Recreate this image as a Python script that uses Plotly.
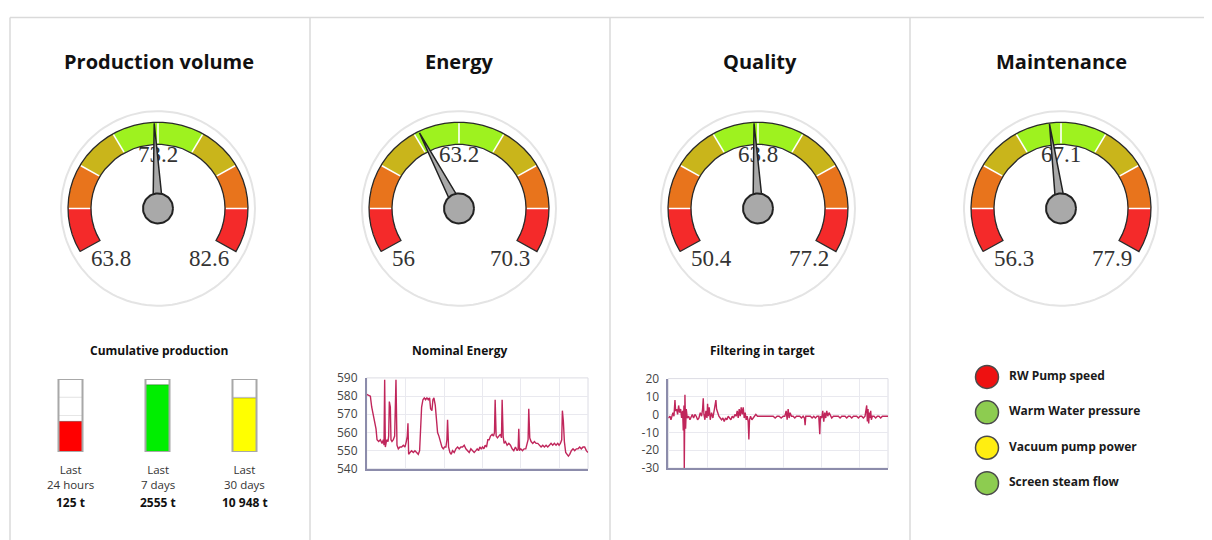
import numpy as np
import plotly.graph_objects as go

# figure size / placement: the photographed page shows the figure offset by (8, ~16) px and
# slightly compressed vertically, so reference pixel positions are converted accordingly.
W, H = 1204, 543
OX = 8
IMG_OY, SY = 16.1, 0.966

# ---------------- data ----------------
panel_titles = ["Production volume", "Energy", "Quality", "Maintenance"]
gauge_min = [63.8, 56, 50.4, 56.3]
gauge_max = [82.6, 70.3, 77.2, 77.9]
gauge_value = [73.2, 63.2, 63.8, 67.1]
needle_value = [73.0, 61.5, 63.5, 66.4]
zone_colors = ["#f42a2a", "#e8741c", "#c9b51b", "#9ef21f",
               "#9ef21f", "#c9b51b", "#e8741c", "#f42a2a"]

tank_labels = ["Last<br>24 hours", "Last<br>7 days", "Last<br>30 days"]
tank_totals = ["125 t", "2555 t", "10 948 t"]
tank_fill_pct = [42, 92, 74]
tank_colors = ["#ff0000", "#00ee00", "#ffff00"]

energy_title = "Nominal Energy"
energy_ticks = [540, 550, 560, 570, 580, 590]
energy_t = [140, 151, 155, 160, 165, 168, 171, 176, 181, 186, 190, 192, 194, 196, 200, 204, 206, 208,
            211, 213, 216, 220, 224, 226, 228, 231, 235, 240, 245, 250, 255, 259, 262, 264, 266, 270,
            275, 280, 285, 290, 295, 299, 302, 305, 309, 313, 317, 321, 325, 329, 332, 336, 339, 342,
            346, 350, 353, 357, 361, 366, 370, 374, 378, 381, 383, 386, 390, 394, 398, 403, 408, 413,
            418, 423, 428, 433, 438, 443, 448, 453, 458, 463, 468, 472, 476, 480, 484, 488, 492, 496,
            500, 504, 508, 512, 517, 521, 524, 526, 529, 533, 537, 542, 545, 547, 550, 553, 557, 562,
            567, 572, 577, 582, 587, 592, 595, 597, 599, 603, 608, 613, 618, 622, 625, 627, 630, 634,
            639, 644, 649, 654, 659, 664, 669, 674, 679, 684, 689, 694, 699, 704, 709, 714, 718, 722,
            726, 728, 731, 734, 738, 742, 746, 750, 755, 760, 765, 770, 775, 780, 785, 790, 795, 800, 805]
energy_v = [581, 580, 574, 569, 565, 562, 556, 555, 556, 554, 556, 553, 589, 552, 556, 555, 558, 577,
            574, 556, 555, 556, 558, 570, 589, 553, 551, 552, 552, 553, 552, 555, 558, 565, 548, 549,
            550, 549, 550, 549, 548, 550, 566, 574, 578, 579, 578, 579, 578, 579, 573, 572, 578, 579,
            575, 566, 560, 558, 555, 552, 551, 552, 552, 556, 567, 552, 549, 548, 550, 549, 551, 552,
            551, 552, 552, 553, 551, 550, 549, 551, 550, 549, 550, 551, 550, 552, 551, 552, 551, 553,
            552, 556, 556, 558, 559, 558, 560, 578, 558, 557, 558, 559, 557, 578, 558, 554, 555, 553,
            554, 553, 551, 550, 552, 550, 551, 562, 550, 551, 550, 551, 551, 555, 556, 573, 557, 555,
            554, 555, 554, 554, 553, 552, 553, 552, 553, 552, 553, 554, 553, 554, 553, 554, 553, 554,
            556, 572, 566, 555, 549, 548, 547, 548, 550, 551, 550, 551, 551, 552, 551, 552, 552, 550, 549]

quality_title = "Filtering in target"
quality_ticks = [-30, -20, -10, 0, 10, 20]
quality_t = [145, 150, 153, 156, 159, 162, 165, 167, 170, 173, 176, 179, 182, 185, 188, 190, 192, 193,
             195, 197, 199, 202, 206, 210, 213, 217, 221, 225, 229, 233, 237, 241, 245, 248, 250, 252,
             255, 258, 261, 263, 265, 268, 271, 275, 279, 283, 286, 288, 290, 293, 297, 301, 305, 309,
             313, 317, 321, 325, 329, 333, 337, 341, 345, 349, 352, 355, 358, 361, 364, 367, 370, 373,
             376, 379, 382, 385, 387, 389, 392, 396, 400, 404, 408, 413, 418, 424, 430, 436, 442, 448,
             454, 460, 466, 472, 478, 484, 490, 495, 499, 502, 505, 508, 511, 515, 520, 525, 530, 535,
             540, 545, 550, 554, 556, 558, 562, 567, 572, 577, 582, 587, 592, 597, 600, 602, 606, 609,
             612, 615, 618, 621, 624, 628, 632, 636, 641, 646, 651, 656, 661, 666, 671, 676, 681, 686,
             691, 696, 701, 706, 711, 716, 721, 726, 731, 736, 739, 741, 743, 745, 747, 749, 751, 753,
             755, 758, 763, 768, 773, 778, 783, 788, 793, 798, 805]
quality_v = [-2, -1, -3, -1, 1, -1, 8, 2, 3, 0, 5, 1, 3, -2, 2, -9, 5, -30,
             11, -8, 3, -2, -1, -3, -2, 0, -2, 0, -1, -3, -2, 1, -1, 3, 9, 0,
             -3, 2, -2, 6, -1, 4, -3, 1, -2, 2, 5, 8, 3, 1, -1, -2, -3, -2,
             -4, -2, -3, -1, -2, -3, -1, -2, 0, -1, 2, -2, 3, -1, 4, 0, 4, -2,
             1, -3, -1, -4, -14, -3, -1, -3, -2, -1, 0, -1, -1, -1, -1, -1, -1, -1,
             -1, -1, -2, -1, -1, -2, -1, -1, 2, -3, 3, -2, 1, -1, -1, -2, -1, -1,
             -1, -2, -1, -2, -6, -1, -1, -1, -1, -2, -1, -2, -1, -1, -11, -1, -2, 2,
             -4, 1, -2, 2, -1, 1, -1, -2, -1, -1, -1, -1, -2, -1, -1, -1, -2, -1,
             -1, -2, -1, -1, -1, -2, -1, -1, -2, -1, 2, 5, -4, 3, -5, 1, -2, 2,
             -3, -1, -1, -2, -1, -1, -2, -1, -1, -1, -1]

status_labels = ["RW Pump speed", "Warm Water pressure", "Vacuum pump power", "Screen steam flow"]
status_colors = ["#ee1111", "#8dcc50", "#ffee11", "#8dcc50"]


# ---------------- helpers (reference pixel -> figure fraction) ----------------
def fx(px):
    return (px - OX) / W


def fy(py):
    return 1 - ((py - IMG_OY) / SY) / H


def dom_x(a, b):
    return [max(0, fx(a)), min(1, fx(b))]


def dom_y(top, bottom):
    return [max(0, fy(bottom)), min(1, fy(top))]


def names(n):
    s = "" if n == 1 else str(n)
    return "x" + s, "y" + s, "xaxis" + s, "yaxis" + s


TITLE_FONT = "Open Sans"
SERIF = "Liberation Serif"
panel_cx = [159, 459, 760, 1061]
gauge_cx = [158, 459, 758, 1061]
GAUGE_CY = 207
R_OUT, R_IN, SQ = 90, 67, 0.955

fig = go.Figure()
axes = {}
annotations = []
shapes = []


def arc_pts(r, a0, a1, n=40, sq=SQ):
    a = np.radians(np.linspace(a0, a1, n))
    return list(r * np.cos(a)), list(r * sq * np.sin(a))


def band(a0, a1):
    xo, yo = arc_pts(R_OUT, a0, a1)
    xi, yi = arc_pts(R_IN, a1, a0)
    return xo + xi + [xo[0]], yo + yi + [yo[0]]


def to_angle(v, mn, mx):
    return 210 - (v - mn) / (mx - mn) * 240


def hidden_axes(n, xd, yd, xrange, yrange):
    xr, yr, xk, yk = names(n)
    axes[xk] = dict(domain=dom_x(*xd), range=xrange, visible=False, fixedrange=True, anchor=yr)
    axes[yk] = dict(domain=dom_y(*yd), range=yrange, visible=False, fixedrange=True, anchor=xr)
    return xr, yr


# ---------------- gauges ----------------
for i in range(4):
    cx = gauge_cx[i]
    xr, yr = hidden_axes(i + 1, (cx - 105, cx + 105), (GAUGE_CY - 105, GAUGE_CY + 105),
                         [-105, 105], [-105, 105])
    mn, mx = gauge_min[i], gauge_max[i]
    cxs, cys = arc_pts(97, 0, 360, 120, sq=1)
    fig.add_trace(go.Scatter(x=cxs, y=cys, mode="lines", line=dict(color="#e4e4e4", width=2),
                             xaxis=xr, yaxis=yr, hoverinfo="skip"))
    nz = len(zone_colors)
    step = 240 / nz
    for k, col in enumerate(zone_colors):
        bx, by = band(210 - k * step, 210 - (k + 1) * step)
        fig.add_trace(go.Scatter(x=bx, y=by, mode="lines", fill="toself", fillcolor=col,
                                 line=dict(width=0, color=col), xaxis=xr, yaxis=yr, hoverinfo="skip"))
    bx, by = band(210, -30)
    fig.add_trace(go.Scatter(x=bx, y=by, mode="lines", line=dict(color="#2a2a2a", width=1.3),
                             xaxis=xr, yaxis=yr, hoverinfo="skip"))
    dx, dy = [], []
    for k in range(1, nz):
        a = np.radians(210 - k * step)
        dx += [(R_IN + 1) * np.cos(a), (R_OUT - 1) * np.cos(a), None]
        dy += [(R_IN + 1) * SQ * np.sin(a), (R_OUT - 1) * SQ * np.sin(a), None]
    fig.add_trace(go.Scatter(x=dx, y=dy, mode="lines", line=dict(color="#ffffff", width=1.6),
                             xaxis=xr, yaxis=yr, hoverinfo="skip"))
    fig.add_trace(go.Scatter(x=[0], y=[52], mode="text", text=[f"{gauge_value[i]:g}"],
                             textposition="middle center",
                             textfont=dict(family=SERIF, size=23, color="#333333"),
                             xaxis=xr, yaxis=yr, hoverinfo="skip"))
    annotations.append(dict(x=-69, y=-50, xref=xr, yref=yr, text=f"{mn:g}", showarrow=False,
                            xanchor="left", yanchor="middle",
                            font=dict(family=SERIF, size=23, color="#333333")))
    annotations.append(dict(x=73, y=-50, xref=xr, yref=yr, text=f"{mx:g}", showarrow=False,
                            xanchor="right", yanchor="middle",
                            font=dict(family=SERIF, size=23, color="#333333")))
    th = np.radians(to_angle(needle_value[i], mn, mx))
    L, hw = 85, 5
    px_, py_ = -np.sin(th), np.cos(th)
    nx = [hw * px_, L * np.cos(th), -hw * px_, hw * px_]
    ny = [hw * py_, L * np.sin(th), -hw * py_, hw * py_]
    fig.add_trace(go.Scatter(x=nx, y=ny, mode="lines", fill="toself", fillcolor="#a9a9a9",
                             line=dict(color="#222222", width=1.5), xaxis=xr, yaxis=yr,
                             hoverinfo="skip"))
    hx, hy = arc_pts(15, 0, 360, 60, sq=1)
    fig.add_trace(go.Scatter(x=hx, y=hy, mode="lines", fill="toself", fillcolor="#a9a9a9",
                             line=dict(color="#222222", width=2), xaxis=xr, yaxis=yr,
                             hoverinfo="skip"))

# ---------------- tanks (panel 1) ----------------
xr, yr = hidden_axes(7, (27, 288), (377, 450), [-0.5, 2.5], [0, 100])
tx = list(range(len(tank_fill_pct)))
BW = 0.276
for base, h in [(0, 50), (50, 25), (75, 25)]:
    fig.add_trace(go.Bar(x=tx, y=[h] * 3, base=[base] * 3, width=BW,
                         marker=dict(color="#ffffff", line=dict(color="#e6e6e6", width=1)),
                         xaxis=xr, yaxis=yr, hoverinfo="skip"))
fig.add_trace(go.Bar(x=tx, y=tank_fill_pct, base=[0] * 3, width=BW,
                     marker=dict(color=tank_colors, line=dict(color="rgba(0,0,0,0.3)", width=1)),
                     xaxis=xr, yaxis=yr, hoverinfo="skip"))
fig.add_trace(go.Bar(x=tx, y=[100] * 3, base=[0] * 3, width=BW,
                     marker=dict(color="rgba(0,0,0,0)", line=dict(color="#a8a8a8", width=2)),
                     xaxis=xr, yaxis=yr, hoverinfo="skip"))
for k in tx:
    annotations.append(dict(x=k, y=fy(474.5), xref=xr, yref="paper", text=tank_labels[k],
                            showarrow=False, xanchor="center", yanchor="middle",
                            font=dict(family=TITLE_FONT, size=11.5, color="#333333")))
    annotations.append(dict(x=k, y=fy(500), xref=xr, yref="paper", text=tank_totals[k],
                            showarrow=False, xanchor="center", yanchor="middle",
                            font=dict(family=TITLE_FONT, size=12, color="#111111", weight="bold")))

# ---------------- line charts ----------------
LINE_COL = "#c0265b"
AXIS_COL = "#8c8cab"
GRID_COL = "#e9e9ef"


def line_chart(n, t, v, xd, yd, xrange, yrange, ticks, tick0, dtick):
    xr, yr, xk, yk = names(n)
    axes[xk] = dict(domain=dom_x(*xd), range=xrange, showgrid=True, gridcolor=GRID_COL, anchor=yr,
                    tick0=tick0, dtick=dtick, showticklabels=False, zeroline=False,
                    showline=True, linecolor=AXIS_COL, linewidth=1.5, ticks="", fixedrange=True)
    axes[yk] = dict(domain=dom_y(*yd), range=yrange, showgrid=True, gridcolor=GRID_COL, anchor=xr,
                    tickvals=ticks, ticktext=[str(tv) for tv in ticks], zeroline=False,
                    showline=True, linecolor=AXIS_COL, linewidth=1.5, ticks="",
                    ticklabelstandoff=5,
                    tickfont=dict(family=TITLE_FONT, size=12, color="#444444"), fixedrange=True)
    shapes.append(dict(type="rect", xref=xr + " domain", yref=yr + " domain", x0=0, x1=1, y0=0,
                       y1=1, line=dict(color="#dcdce4", width=1), layer="below"))
    fig.add_trace(go.Scatter(x=t, y=v, mode="lines", line=dict(color=LINE_COL, width=1.4),
                             xaxis=xr, yaxis=yr, hoverinfo="skip"))


line_chart(5, energy_t, energy_v, (366.7, 588), (376, 466.7), [140, 805], [540, 590],
           energy_ticks, 258, 115)
line_chart(6, quality_t, quality_v, (668.3, 888), (376.7, 466), [145, 805], [-30, 20],
           quality_ticks, 262, 114.5)

# ---------------- status list (panel 4) ----------------
xr, yr = hidden_axes(8, (960, 1180), (357.4, 498.6), [0, 220], [3.5, -0.5])
sy = list(range(len(status_labels)))
fig.add_trace(go.Scatter(x=[27] * 4, y=sy, mode="markers",
                         marker=dict(size=23, color=status_colors, line=dict(color="#4a4a4a", width=1.5)),
                         xaxis=xr, yaxis=yr, hoverinfo="skip"))
fig.add_trace(go.Scatter(x=[49] * 4, y=sy, mode="text", text=status_labels, textposition="middle right",
                         textfont=dict(family=TITLE_FONT, size=12, color="#1a1a1a", weight="bold"),
                         xaxis=xr, yaxis=yr, hoverinfo="skip"))

# ---------------- titles ----------------
for i, t in enumerate(panel_titles):
    annotations.append(dict(x=fx(panel_cx[i]), y=fy(60), xref="paper", yref="paper", text=t,
                            showarrow=False, xanchor="center", yanchor="middle",
                            font=dict(family=TITLE_FONT, size=20, color="#111111", weight="bold")))
for cxp, t in [(159, "Cumulative production"), (459, energy_title), (762, quality_title)]:
    annotations.append(dict(x=fx(cxp), y=fy(349), xref="paper", yref="paper", text=t,
                            showarrow=False, xanchor="center", yanchor="middle",
                            font=dict(family=TITLE_FONT, size=12, color="#111111", weight="bold")))

# ---------------- panel frame ----------------
FRAME = "#dadada"
top = min(fy(10), 0.999)
shapes.append(dict(type="line", xref="paper", yref="paper", x0=fx(10), x1=fx(1210),
                   y0=top, y1=top, line=dict(color=FRAME, width=1.5)))
for xv in [10, 310, 610, 910, 1210]:
    shapes.append(dict(type="line", xref="paper", yref="paper", x0=fx(xv), x1=fx(xv),
                       y0=0, y1=top, line=dict(color=FRAME, width=1.5)))

fig.update_layout(width=W, height=H, margin=dict(l=0, r=0, t=0, b=0),
                  paper_bgcolor="white", plot_bgcolor="white", showlegend=False,
                  hovermode=False, barmode="overlay", annotations=annotations, shapes=shapes,
                  **axes)

fig.write_html("out.html")
